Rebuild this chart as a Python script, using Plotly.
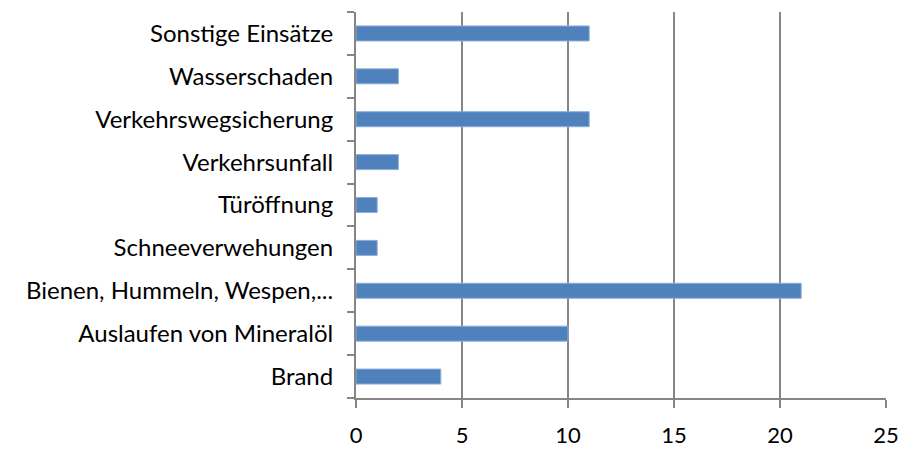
import plotly.graph_objects as go

categories = ["Brand", "Auslaufen von Mineralöl", "Bienen, Hummeln, Wespen,...",
              "Schneeverwehungen", "Türöffnung", "Verkehrsunfall",
              "Verkehrswegsicherung", "Wasserschaden", "Sonstige Einsätze"]
values = [4, 10, 21, 1, 1, 2, 11, 2, 11]
x_ticks = [0, 5, 10, 15, 20, 25]

axis_grey = "#868686"
font_family = "Lato, 'Open Sans', sans-serif"

fig = go.Figure(go.Bar(
    y=categories, x=values, orientation="h",
    width=0.35,
    marker=dict(color="#4F81BD", line=dict(color="#8EAEDB", width=1)),
    hoverinfo="x+y",
))

# page body has an 8px default margin, so the figure is shrunk by 8px
fig.update_layout(
    width=907, height=442,
    margin=dict(l=348, r=29, t=4, b=52),
    paper_bgcolor="white", plot_bgcolor="white",
    showlegend=False,
    font=dict(family=font_family, size=24, color="#000000"),
)
fig.update_xaxes(
    range=[0, 25], tickvals=x_ticks, ticktext=[str(v) for v in x_ticks],
    showgrid=True, gridcolor=axis_grey, gridwidth=2,
    showline=True, linecolor=axis_grey, linewidth=2,
    ticks="outside", ticklen=8, tickcolor=axis_grey, tickwidth=2,
    ticklabelstandoff=9, zeroline=False, automargin=False,
    tickfont=dict(size=22),
)
fig.update_yaxes(
    categoryorder="array", categoryarray=categories,
    showgrid=False, showline=True, linecolor=axis_grey, linewidth=2,
    ticks="outside", ticklen=7, tickcolor=axis_grey, tickwidth=2,
    tickson="boundaries", ticklabelstandoff=16, automargin=False,
    tickfont=dict(size=24),
)

fig.write_html("out.html")
